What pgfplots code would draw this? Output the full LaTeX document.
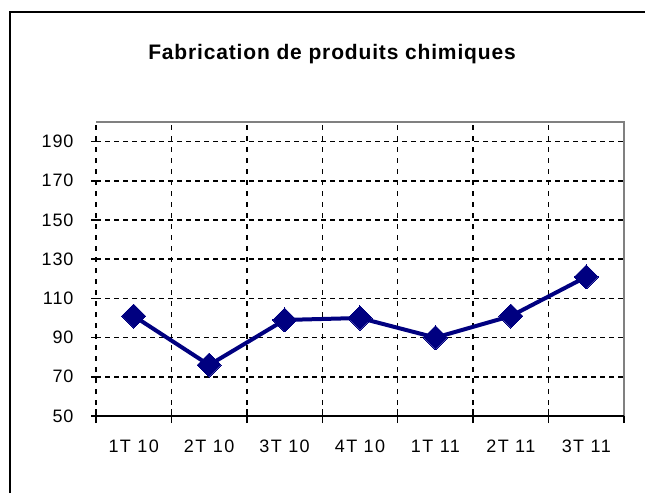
\documentclass[border=0pt]{standalone}
\usepackage{fontspec}
\setmainfont{Liberation Sans}
\newfontfamily\tickfont{Liberation Sans}[LetterSpace=5]
\newfontfamily\xtickfont{Liberation Sans}[LetterSpace=8]
\newfontfamily\titlefont{Liberation Sans}[LetterSpace=4]
\usepackage{pgfplots}
\pgfplotsset{compat=1.18}
\definecolor{navyline}{RGB}{0,0,128}
\begin{document}
\begin{tikzpicture}
\useasboundingbox (0,0) rectangle (645pt,493pt);
\draw[line width=2pt] (10pt,0) -- (10pt,481pt) -- (646pt,481pt);
\node[font=\titlefont\bfseries\fontsize{21}{23}\selectfont] at (332pt,439pt) {Fabrication de produits chimiques};
\begin{axis}[
  at={(96pt,77pt)}, anchor=south west,
  width=528pt, height=294pt, scale only axis,
  xmin=-0.5, xmax=6.5, ymin=50, ymax=200,
  axis line style={draw=none},
  xtick={0,1,2,3,4,5,6},
  xticklabels={1T 10,2T 10,3T 10,4T 10,1T 11,2T 11,3T 11},
  major x tick style={draw=none},
  minor xtick={-0.5,0.5,1.5,2.5,3.5,4.5,5.5,6.5},
  xminorgrids,
  minor x grid style={black, dash pattern=on 5pt off 6pt, line width=1.5pt},
  ytick={50,70,90,110,130,150,170,190},
  ymajorgrids,
  major y grid style={black, dash pattern=on 5pt off 4pt, line width=1.5pt},
  tick align=center,
  major tick length=10pt,
  minor tick length=14pt,
  xtick pos=bottom, ytick pos=left,
  tick style={black, line width=1.5pt},
  /pgf/number format/assume math mode=true,
  yticklabel style={font=\tickfont\fontsize{18}{20}\selectfont, xshift=-14pt},
  xticklabel style={font=\xtickfont\fontsize{18}{20}\selectfont, anchor=north, text height=13pt, text depth=0pt, yshift=-15pt},
  clip=false,
]
\draw[gray, line width=1.5pt] (axis cs:6.5,50) -- (axis cs:6.5,200) -- (axis cs:-0.5,200);
\draw[black, line width=1.5pt] (axis cs:-0.5,50) -- (axis cs:6.5,50);
\addplot[navyline, line width=4pt, mark=square*, mark size=8.5pt, mark options={rotate=45, fill=navyline, draw=navyline, line width=0pt}] coordinates {
(0,101) (1,76) (2,99) (3,100) (4,90) (5,101) (6,121)
};
\end{axis}
\end{tikzpicture}
\end{document}
